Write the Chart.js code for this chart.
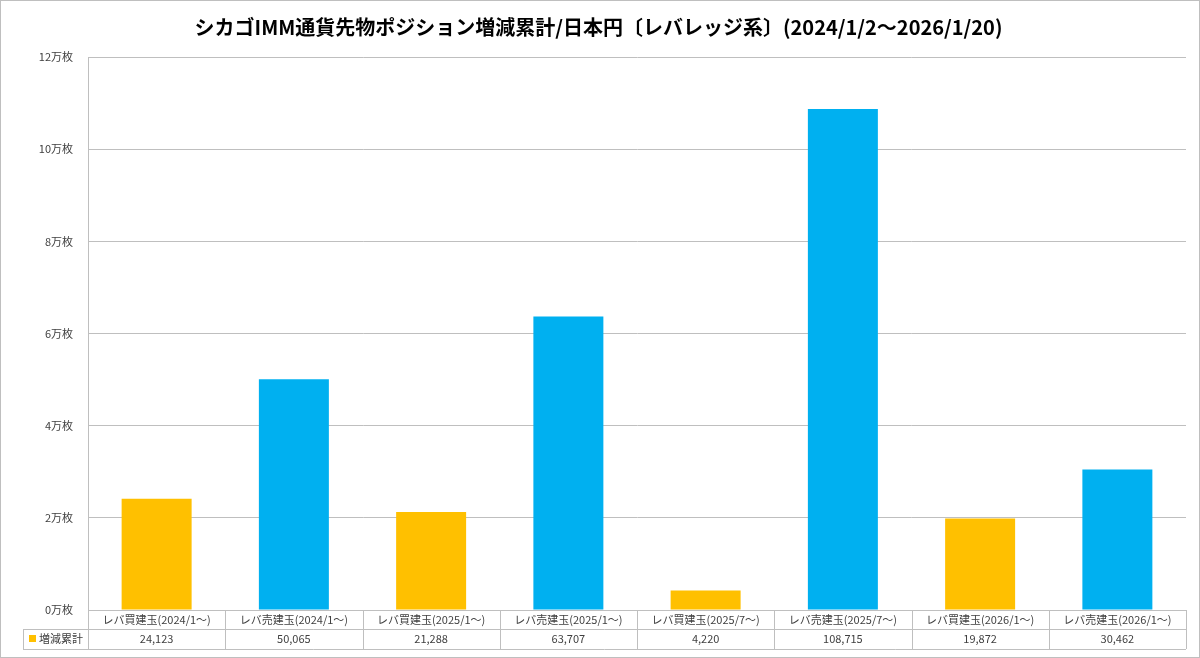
<!DOCTYPE html>
<html><head><meta charset="utf-8">
<script src="https://cdn.jsdelivr.net/npm/chart.js@4"></script>
<style>
html,body{margin:0;padding:0;background:#fff;}
#wrap{position:relative;width:1198px;height:656px;border:1px solid #bfbfbf;}
</style></head>
<body><div id="wrap"><canvas id="c"></canvas></div>
<script>
const categories = ['レバ買建玉(2024/1〜)','レバ売建玉(2024/1〜)','レバ買建玉(2025/1〜)','レバ売建玉(2025/1〜)','レバ買建玉(2025/7〜)','レバ売建玉(2025/7〜)','レバ買建玉(2026/1〜)','レバ売建玉(2026/1〜)'];
const values = [24123, 50065, 21288, 63707, 4220, 108715, 19872, 30462];
const seriesName = '増減累計';
const barColors = ['#FFC000','#00B0F0','#FFC000','#00B0F0','#FFC000','#00B0F0','#FFC000','#00B0F0'];
const FONT = '"Noto Sans CJK JP", sans-serif';

const tablePlugin = {
  id: 'table',
  afterDraw(chart) {
    const ctx = chart.ctx, x = chart.scales.x, area = chart.chartArea;
    const top = area.bottom, mid = top + 19, bot = mid + 20, left = 22;
    const step = (area.right - area.left) / categories.length;
    ctx.save();
    ctx.strokeStyle = '#bfbfbf'; ctx.lineWidth = 1;
    ctx.beginPath();
    ctx.moveTo(area.left, top + .5); ctx.lineTo(area.right, top + .5);
    ctx.moveTo(left, mid + .5); ctx.lineTo(area.right, mid + .5);
    ctx.moveTo(left, bot + .5); ctx.lineTo(area.right, bot + .5);
    ctx.moveTo(left + .5, mid); ctx.lineTo(left + .5, bot);
    for (let i = 0; i <= categories.length; i++) {
      const px = Math.round(area.left + step * i) + .5;
      ctx.moveTo(px, top); ctx.lineTo(px, bot);
    }
    ctx.stroke();
    ctx.fillStyle = '#404040'; ctx.textAlign = 'center'; ctx.textBaseline = 'middle';
    ctx.font = '11px ' + FONT;
    categories.forEach((c, i) => {
      const cx = x.getPixelForValue(i);
      ctx.fillText(c, cx, top + 10);
      ctx.fillText(values[i].toLocaleString('en-US'), cx, mid + 10);
    });
    ctx.fillStyle = '#FFC000'; ctx.fillRect(left + 6, mid + 6, 7, 7);
    ctx.fillStyle = '#404040'; ctx.textAlign = 'left';
    ctx.fillText(seriesName, left + 16, mid + 10);
    ctx.restore();
  }
};

new Chart(document.getElementById('c'), {
  type: 'bar',
  data: { labels: categories, datasets: [{ label: seriesName, data: values, backgroundColor: barColors, categoryPercentage: 1, barPercentage: 0.51 }] },
  options: {
    responsive: true, maintainAspectRatio: false, animation: false,
    layout: { padding: { top: 10, right: 13, bottom: 39, left: 10 } },
    plugins: {
      legend: { display: false }, tooltip: { enabled: false },
      title: { display: true, text: 'シカゴIMM通貨先物ポジション増減累計/日本円〔レバレッジ系〕(2024/1/2〜2026/1/20)',
        color: '#000', font: { family: FONT, size: 20, weight: 'bold' }, padding: { top: 4, bottom: 18 } }
    },
    scales: {
      x: { ticks: { display: false }, grid: { display: false }, border: { color: '#bfbfbf' } },
      y: { min: 0, max: 120000, afterFit(s) { s.width = 77; },
        ticks: { stepSize: 20000, color: '#404040', font: { family: FONT, size: 11 }, padding: 15,
          callback: v => (v / 10000) + '万枚' },
        grid: { color: '#bfbfbf', drawTicks: false }, border: { display: true, color: '#bfbfbf' } }
    }
  },
  plugins: [tablePlugin]
});
</script></body></html>
